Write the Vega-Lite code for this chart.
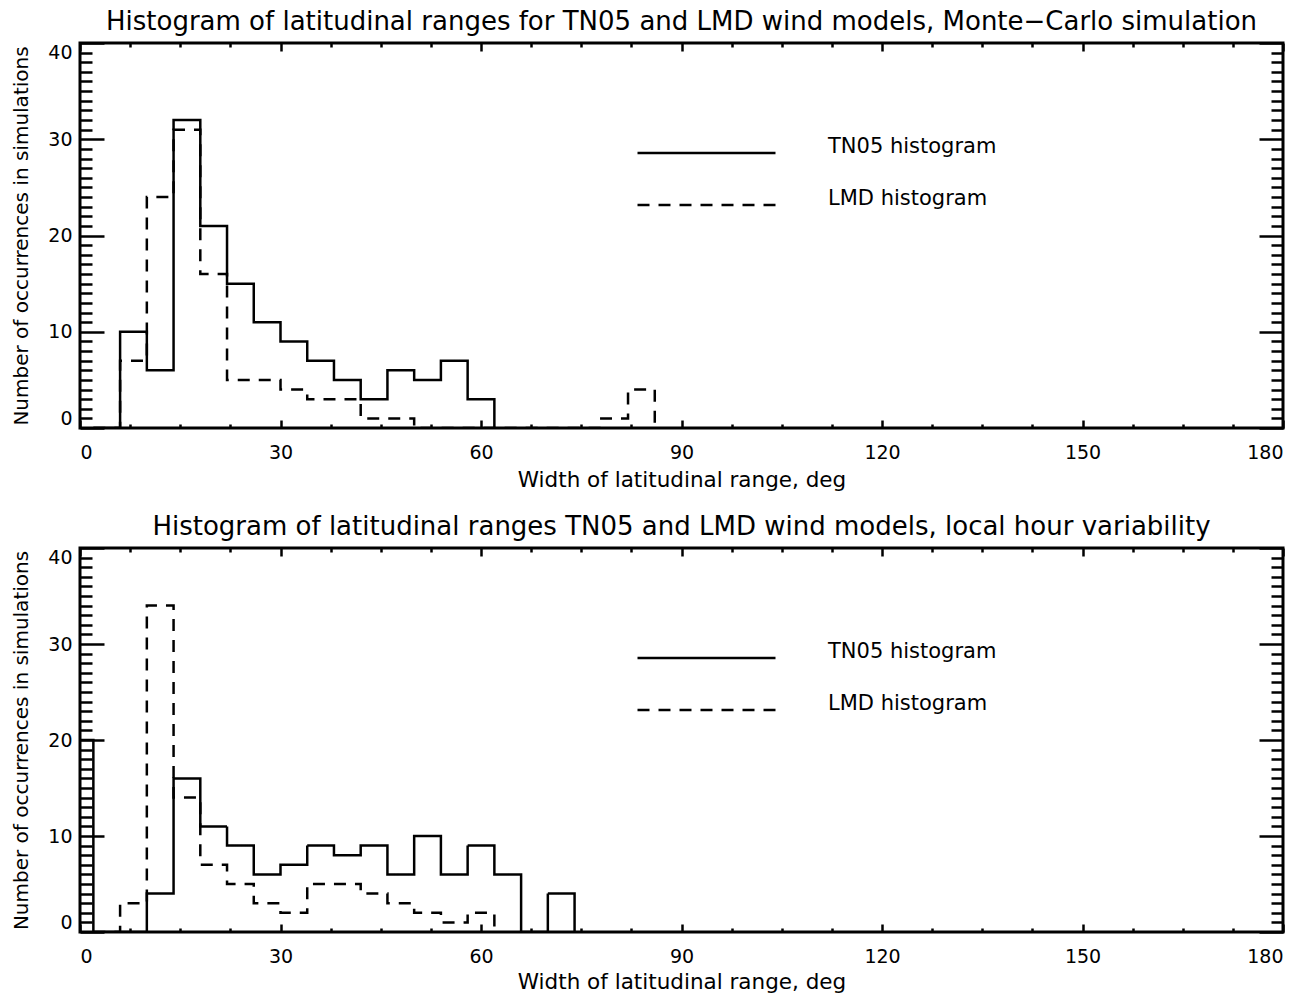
{
  "$schema": "https://vega.github.io/schema/vega-lite/v6.json",
  "background": "white",
  "padding": {"left": 10, "top": 7, "right": 6, "bottom": 0},
  "datasets": {
    "h": [
      {"p": 1, "s": "TN05 histogram", "x": 2, "n": 0},
      {"p": 1, "s": "TN05 histogram", "x": 6, "n": 10},
      {"p": 1, "s": "TN05 histogram", "x": 10, "n": 6},
      {"p": 1, "s": "TN05 histogram", "x": 14, "n": 32},
      {"p": 1, "s": "TN05 histogram", "x": 18, "n": 21},
      {"p": 1, "s": "TN05 histogram", "x": 22, "n": 15},
      {"p": 1, "s": "TN05 histogram", "x": 26, "n": 11},
      {"p": 1, "s": "TN05 histogram", "x": 30, "n": 9},
      {"p": 1, "s": "TN05 histogram", "x": 34, "n": 7},
      {"p": 1, "s": "TN05 histogram", "x": 38, "n": 5},
      {"p": 1, "s": "TN05 histogram", "x": 42, "n": 3},
      {"p": 1, "s": "TN05 histogram", "x": 46, "n": 6},
      {"p": 1, "s": "TN05 histogram", "x": 50, "n": 5},
      {"p": 1, "s": "TN05 histogram", "x": 54, "n": 7},
      {"p": 1, "s": "TN05 histogram", "x": 58, "n": 3},
      {"p": 1, "s": "TN05 histogram", "x": 62, "n": 0},
      {"p": 1, "s": "LMD histogram", "x": 2, "n": 0},
      {"p": 1, "s": "LMD histogram", "x": 6, "n": 7},
      {"p": 1, "s": "LMD histogram", "x": 10, "n": 24},
      {"p": 1, "s": "LMD histogram", "x": 14, "n": 31},
      {"p": 1, "s": "LMD histogram", "x": 18, "n": 16},
      {"p": 1, "s": "LMD histogram", "x": 22, "n": 5},
      {"p": 1, "s": "LMD histogram", "x": 26, "n": 5},
      {"p": 1, "s": "LMD histogram", "x": 30, "n": 4},
      {"p": 1, "s": "LMD histogram", "x": 34, "n": 3},
      {"p": 1, "s": "LMD histogram", "x": 38, "n": 3},
      {"p": 1, "s": "LMD histogram", "x": 42, "n": 1},
      {"p": 1, "s": "LMD histogram", "x": 46, "n": 1},
      {"p": 1, "s": "LMD histogram", "x": 50, "n": 0},
      {"p": 1, "s": "LMD histogram", "x": 54, "n": 0},
      {"p": 1, "s": "LMD histogram", "x": 58, "n": 0},
      {"p": 1, "s": "LMD histogram", "x": 62, "n": 0},
      {"p": 1, "s": "LMD histogram", "x": 66, "n": 0},
      {"p": 1, "s": "LMD histogram", "x": 70, "n": 0},
      {"p": 1, "s": "LMD histogram", "x": 74, "n": 0},
      {"p": 1, "s": "LMD histogram", "x": 78, "n": 1},
      {"p": 1, "s": "LMD histogram", "x": 82, "n": 4},
      {"p": 1, "s": "LMD histogram", "x": 86, "n": 0},
      {"p": 2, "s": "TN05 histogram", "x": -2, "n": 20},
      {"p": 2, "s": "TN05 histogram", "x": 2, "n": 0},
      {"p": 2, "s": "TN05 histogram", "x": 6, "n": 0},
      {"p": 2, "s": "TN05 histogram", "x": 10, "n": 4},
      {"p": 2, "s": "TN05 histogram", "x": 14, "n": 16},
      {"p": 2, "s": "TN05 histogram", "x": 18, "n": 11},
      {"p": 2, "s": "TN05 histogram", "x": 22, "n": 9},
      {"p": 2, "s": "TN05 histogram", "x": 26, "n": 6},
      {"p": 2, "s": "TN05 histogram", "x": 30, "n": 7},
      {"p": 2, "s": "TN05 histogram", "x": 34, "n": 9},
      {"p": 2, "s": "TN05 histogram", "x": 38, "n": 8},
      {"p": 2, "s": "TN05 histogram", "x": 42, "n": 9},
      {"p": 2, "s": "TN05 histogram", "x": 46, "n": 6},
      {"p": 2, "s": "TN05 histogram", "x": 50, "n": 10},
      {"p": 2, "s": "TN05 histogram", "x": 54, "n": 6},
      {"p": 2, "s": "TN05 histogram", "x": 58, "n": 9},
      {"p": 2, "s": "TN05 histogram", "x": 62, "n": 6},
      {"p": 2, "s": "TN05 histogram", "x": 66, "n": 0},
      {"p": 2, "s": "TN05 histogram", "x": 70, "n": 4},
      {"p": 2, "s": "TN05 histogram", "x": 74, "n": 0},
      {"p": 2, "s": "LMD histogram", "x": 2, "n": 0},
      {"p": 2, "s": "LMD histogram", "x": 6, "n": 3},
      {"p": 2, "s": "LMD histogram", "x": 10, "n": 34},
      {"p": 2, "s": "LMD histogram", "x": 14, "n": 14},
      {"p": 2, "s": "LMD histogram", "x": 18, "n": 7},
      {"p": 2, "s": "LMD histogram", "x": 22, "n": 5},
      {"p": 2, "s": "LMD histogram", "x": 26, "n": 3},
      {"p": 2, "s": "LMD histogram", "x": 30, "n": 2},
      {"p": 2, "s": "LMD histogram", "x": 34, "n": 5},
      {"p": 2, "s": "LMD histogram", "x": 38, "n": 5},
      {"p": 2, "s": "LMD histogram", "x": 42, "n": 4},
      {"p": 2, "s": "LMD histogram", "x": 46, "n": 3},
      {"p": 2, "s": "LMD histogram", "x": 50, "n": 2},
      {"p": 2, "s": "LMD histogram", "x": 54, "n": 1},
      {"p": 2, "s": "LMD histogram", "x": 58, "n": 2},
      {"p": 2, "s": "LMD histogram", "x": 62, "n": 0}
    ]
  },
  "spacing": 20,
  "vconcat": [
    {
      "width": 1203,
      "height": 385,
      "title": {"text": "Histogram of latitudinal ranges for TN05 and LMD wind models, Monte\u2212Carlo simulation"},
      "data": {"name": "h"},
      "transform": [{"filter": "datum.p == 1"}],
      "layer": [
        {
          "mark": {"type": "line", "interpolate": "step-after", "color": "black", "strokeWidth": 2.5, "clip": true},
          "encoding": {
            "x": {"field": "x", "type": "quantitative", "scale": {"domain": [0, 180], "nice": false, "zero": false},
              "axis": {"orient": "bottom", "values": [0, 30, 60, 90, 120, 150, 180], "tickSize": -8, "labelPadding": 23, "title": "Width of latitudinal range, deg", "titlePadding": 7}},
            "y": {"field": "n", "type": "quantitative", "scale": {"domain": [0, 40], "nice": false},
              "axis": {"orient": "left", "values": [0, 10, 20, 30, 40], "tickSize": -24, "labelPadding": 32, "labelFlush": true, "title": "Number of occurrences in simulations", "titlePadding": 16, "titleFontSize": 20}},
            "strokeDash": {"field": "s", "type": "nominal", "sort": ["TN05 histogram", "LMD histogram"],
              "scale": {"domain": ["TN05 histogram", "LMD histogram"], "range": [[1, 0], [12, 9]]},
              "legend": {"orient": "none", "legendX": 556, "legendY": 95, "title": null, "symbolType": "stroke", "symbolSize": 19044, "symbolStrokeWidth": 2.5, "symbolStrokeColor": "black", "labelFontSize": 21, "labelFont": "DejaVu Sans", "labelColor": "black", "labelOffset": 51, "labelLimit": 400, "clipHeight": 30, "rowPadding": 20, "padding": 0, "labelBaseline": "alphabetic"}}
          }
        },
        {
          "mark": {"type": "line", "strokeOpacity": 0},
          "encoding": {
            "x": {"field": "x", "type": "quantitative", "scale": {"domain": [0, 180], "nice": false, "zero": false},
              "axis": {"orient": "bottom", "values": [7.5, 15, 22.5, 37.5, 45, 52.5, 67.5, 75, 82.5, 97.5, 105, 112.5, 127.5, 135, 142.5, 157.5, 165, 172.5], "tickSize": -4, "labels": false, "title": null}},
            "y": {"field": "n", "type": "quantitative", "scale": {"domain": [0, 40], "nice": false},
              "axis": {"orient": "left", "values": [1,2,3,4,5,6,7,8,9,11,12,13,14,15,16,17,18,19,21,22,23,24,25,26,27,28,29,31,32,33,34,35,36,37,38,39], "tickSize": -12, "labels": false, "title": null}}
          }
        },
        {
          "mark": {"type": "line", "strokeOpacity": 0},
          "encoding": {
            "x": {"field": "x", "type": "quantitative", "scale": {"domain": [0, 180], "nice": false, "zero": false},
              "axis": {"orient": "top", "values": [0, 30, 60, 90, 120, 150, 180], "tickSize": -8, "labels": false, "title": null}},
            "y": {"field": "n", "type": "quantitative", "scale": {"domain": [0, 40], "nice": false},
              "axis": {"orient": "right", "values": [0, 10, 20, 30, 40], "tickSize": -24, "labels": false, "title": null}}
          }
        },
        {
          "mark": {"type": "line", "strokeOpacity": 0},
          "encoding": {
            "x": {"field": "x", "type": "quantitative", "scale": {"domain": [0, 180], "nice": false, "zero": false},
              "axis": {"orient": "top", "values": [7.5, 15, 22.5, 37.5, 45, 52.5, 67.5, 75, 82.5, 97.5, 105, 112.5, 127.5, 135, 142.5, 157.5, 165, 172.5], "tickSize": -4, "labels": false, "title": null}},
            "y": {"field": "n", "type": "quantitative", "scale": {"domain": [0, 40], "nice": false},
              "axis": {"orient": "right", "values": [1,2,3,4,5,6,7,8,9,11,12,13,14,15,16,17,18,19,21,22,23,24,25,26,27,28,29,31,32,33,34,35,36,37,38,39], "tickSize": -12, "labels": false, "title": null}}
          }
        }
      ],
      "resolve": {"axis": {"x": "independent", "y": "independent"}}
    },
    {
      "width": 1203,
      "height": 384,
      "title": {"text": "Histogram of latitudinal ranges TN05 and LMD wind models, local hour variability"},
      "data": {"name": "h"},
      "transform": [{"filter": "datum.p == 2"}],
      "layer": [
        {
          "mark": {"type": "line", "interpolate": "step-after", "color": "black", "strokeWidth": 2.5, "clip": true},
          "encoding": {
            "x": {"field": "x", "type": "quantitative", "scale": {"domain": [0, 180], "nice": false, "zero": false},
              "axis": {"orient": "bottom", "values": [0, 30, 60, 90, 120, 150, 180], "tickSize": -8, "labelPadding": 23, "title": "Width of latitudinal range, deg", "titlePadding": 5}},
            "y": {"field": "n", "type": "quantitative", "scale": {"domain": [0, 40], "nice": false},
              "axis": {"orient": "left", "values": [0, 10, 20, 30, 40], "tickSize": -24, "labelPadding": 32, "labelFlush": true, "title": "Number of occurrences in simulations", "titlePadding": 16, "titleFontSize": 20}},
            "strokeDash": {"field": "s", "type": "nominal", "sort": ["TN05 histogram", "LMD histogram"],
              "scale": {"domain": ["TN05 histogram", "LMD histogram"], "range": [[1, 0], [12, 9]]},
              "legend": {"orient": "none", "legendX": 556, "legendY": 95, "title": null, "symbolType": "stroke", "symbolSize": 19044, "symbolStrokeWidth": 2.5, "symbolStrokeColor": "black", "labelFontSize": 21, "labelFont": "DejaVu Sans", "labelColor": "black", "labelOffset": 51, "labelLimit": 400, "clipHeight": 30, "rowPadding": 20, "padding": 0, "labelBaseline": "alphabetic"}}
          }
        },
        {
          "mark": {"type": "line", "strokeOpacity": 0},
          "encoding": {
            "x": {"field": "x", "type": "quantitative", "scale": {"domain": [0, 180], "nice": false, "zero": false},
              "axis": {"orient": "bottom", "values": [7.5, 15, 22.5, 37.5, 45, 52.5, 67.5, 75, 82.5, 97.5, 105, 112.5, 127.5, 135, 142.5, 157.5, 165, 172.5], "tickSize": -4, "labels": false, "title": null}},
            "y": {"field": "n", "type": "quantitative", "scale": {"domain": [0, 40], "nice": false},
              "axis": {"orient": "left", "values": [1,2,3,4,5,6,7,8,9,11,12,13,14,15,16,17,18,19,21,22,23,24,25,26,27,28,29,31,32,33,34,35,36,37,38,39], "tickSize": -12, "labels": false, "title": null}}
          }
        },
        {
          "mark": {"type": "line", "strokeOpacity": 0},
          "encoding": {
            "x": {"field": "x", "type": "quantitative", "scale": {"domain": [0, 180], "nice": false, "zero": false},
              "axis": {"orient": "top", "values": [0, 30, 60, 90, 120, 150, 180], "tickSize": -8, "labels": false, "title": null}},
            "y": {"field": "n", "type": "quantitative", "scale": {"domain": [0, 40], "nice": false},
              "axis": {"orient": "right", "values": [0, 10, 20, 30, 40], "tickSize": -24, "labels": false, "title": null}}
          }
        },
        {
          "mark": {"type": "line", "strokeOpacity": 0},
          "encoding": {
            "x": {"field": "x", "type": "quantitative", "scale": {"domain": [0, 180], "nice": false, "zero": false},
              "axis": {"orient": "top", "values": [7.5, 15, 22.5, 37.5, 45, 52.5, 67.5, 75, 82.5, 97.5, 105, 112.5, 127.5, 135, 142.5, 157.5, 165, 172.5], "tickSize": -4, "labels": false, "title": null}},
            "y": {"field": "n", "type": "quantitative", "scale": {"domain": [0, 40], "nice": false},
              "axis": {"orient": "right", "values": [1,2,3,4,5,6,7,8,9,11,12,13,14,15,16,17,18,19,21,22,23,24,25,26,27,28,29,31,32,33,34,35,36,37,38,39], "tickSize": -12, "labels": false, "title": null}}
          }
        }
      ],
      "resolve": {"axis": {"x": "independent", "y": "independent"}}
    }
  ],
  "resolve": {"legend": {"strokeDash": "independent"}, "scale": {"strokeDash": "independent"}},
  "config": {
    "font": "DejaVu Sans",
    "view": {"stroke": "black", "strokeWidth": 3},
    "axis": {"grid": false, "domain": false, "tickColor": "black", "tickWidth": 2.5, "labelColor": "black", "labelFont": "DejaVu Sans", "labelFontSize": 19, "titleFont": "DejaVu Sans", "titleFontSize": 21.5, "titleFontWeight": "normal", "titleColor": "black"},
    "title": {"font": "DejaVu Sans", "fontSize": 26, "fontWeight": "normal", "color": "black", "anchor": "middle", "offset": 7}
  }
}
